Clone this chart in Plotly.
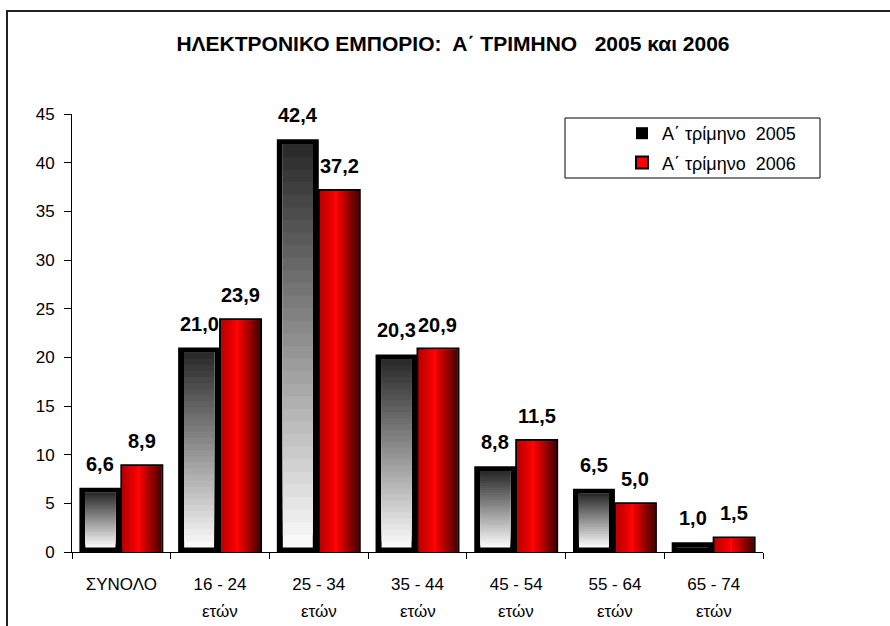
import plotly.graph_objects as go

# ---- data ----
age_groups = ["ΣΥΝΟΛΟ", "16 - 24", "25 - 34", "35 - 44", "45 - 54", "55 - 64", "65 - 74"]
age_unit = ["", "ετών", "ετών", "ετών", "ετών", "ετών", "ετών"]
q1_2005 = [6.6, 21.0, 42.4, 20.3, 8.8, 6.5, 1.0]
q1_2006 = [8.9, 23.9, 37.2, 20.9, 11.5, 5.0, 1.5]
series_names = ["Α΄ τρίμηνο  2005", "Α΄ τρίμηνο  2006"]
title_text = "ΗΛΕΚΤΡΟΝΙΚΟ ΕΜΠΟΡΙΟ:  Α΄ ΤΡΙΜΗΝΟ   2005 και 2006"
y_ticks = [0, 5, 10, 15, 20, 25, 30, 35, 40, 45]

# ---- layout geometry ----
W, H = 890, 626
ML, MR, MT, MB = 72, 127, 114, 74
PW, PH = W - ML - MR, H - MT - MB
YMAX = 45
px_x = PW / len(age_groups)      # pixels per category
px_y = PH / YMAX                 # pixels per y unit

FONT = "Liberation Sans, Arial, sans-serif"

fig = go.Figure()

# ---- 2005 series: black bar with vertical grey gradient ----
b_off, b_w = -0.425, 0.425
fig.add_trace(go.Bar(
    x=age_groups, y=q1_2005, name=series_names[0],
    offset=b_off, width=b_w,
    marker=dict(color="black", line=dict(width=0)),
    legendgroup="a", hoverinfo="x+y",
))
N = 32
inset_x = 6 / px_x
bot = 4.5 / px_y
top_in = 5.0 / px_y
for k in range(N):
    t = (k + 0.5) / N
    g = int(round(252 - (252 - 40) * t))
    bases, heights = [], []
    for v in q1_2005:
        top = v - top_in
        span = max(top - bot, 0)
        b = bot + span * k / N
        bases.append(b)
        heights.append(max(top - b, 0))
    fig.add_trace(go.Bar(
        x=age_groups, y=heights, base=bases,
        offset=b_off + inset_x, width=b_w - 2 * inset_x,
        marker=dict(color=f"rgb({g},{g},{g})", line=dict(width=0)),
        showlegend=False, hoverinfo="skip",
    ))

# ---- 2006 series: red bar with horizontal gradient ----
r_off, r_w = 0.0, 0.415
fig.add_trace(go.Bar(
    x=age_groups, y=q1_2006, name=series_names[1],
    offset=r_off, width=r_w,
    marker=dict(color="#ff0000", line=dict(width=2, color="black")),
    legendgroup="b", hoverinfo="x+y",
))
M = 18
ix = 1.2 / px_x
x_start = r_off + ix
x_end = r_off + r_w - ix
def red_at(t):
    pts = [(0.0, 185), (0.42, 255), (1.0, 70)]
    for (t0, c0), (t1, c1) in zip(pts[:-1], pts[1:]):
        if t <= t1:
            return c0 + (c1 - c0) * (t - t0) / (t1 - t0)
    return pts[-1][1]
for j in range(M):
    t = (j + 0.5) / M
    r = int(round(red_at(t)))
    gb = int(round(max(0, (r - 235)) * 0.3))
    xs = x_start + (x_end - x_start) * j / M
    tops = [max(v - 1.2 / px_y, 0) for v in q1_2006]
    fig.add_trace(go.Bar(
        x=age_groups, y=tops, base=[0] * len(q1_2006),
        offset=xs, width=x_end - xs,
        marker=dict(color=f"rgb({r},{gb},{gb})", line=dict(width=0)),
        showlegend=False, hoverinfo="skip",
    ))

# ---- data labels ----
annotations = []
lab_font = dict(family=FONT, size=20, color="black")
for i, (a, b) in enumerate(zip(q1_2005, q1_2006)):
    annotations.append(dict(
        x=i + b_off + b_w / 2, y=a, xref="x", yref="y",
        text="<b>" + f"{a:.1f}".replace(".", ",") + "</b>", showarrow=False,
        yanchor="middle", yshift=24, font=lab_font, xanchor="center"))
    annotations.append(dict(
        x=i + r_off + r_w / 2, y=b, xref="x", yref="y",
        text="<b>" + f"{b:.1f}".replace(".", ",") + "</b>", showarrow=False,
        yanchor="middle", yshift=24, font=lab_font, xanchor="center"))

# ---- helpers ----
def px2paper_x(p):
    return (p - ML) / PW
def px2paper_y(p):
    return (H - MB - p) / PH

# second line of category labels
for i, u in enumerate(age_unit):
    if u:
        annotations.append(dict(
            x=i, y=px2paper_y(611), xref="x", yref="paper",
            text=u, showarrow=False, yanchor="middle",
            font=dict(family=FONT, size=17, color="black")))

# ---- frame and legend box ----
shapes = [
    dict(type="rect", xref="paper", yref="paper",
         x0=px2paper_x(7), x1=px2paper_x(1000),
         y0=px2paper_y(800), y1=px2paper_y(11),
         line=dict(color="#222222", width=2), layer="below"),
    dict(type="rect", xref="paper", yref="paper",
         x0=px2paper_x(565), x1=px2paper_x(820),
         y0=px2paper_y(178), y1=px2paper_y(118),
         line=dict(color="black", width=1), fillcolor="white", layer="below"),
]

fig.update_layout(
    width=W, height=H,
    margin=dict(l=ML, r=MR, t=MT, b=MB, autoexpand=False),
    paper_bgcolor="white", plot_bgcolor="white",
    barmode="overlay",
    font=dict(family=FONT, size=17, color="black"),
    title=dict(text=f"<b>{title_text}</b>", x=453 / W, xanchor="center",
               y=1 - 44 / H, yanchor="middle", yref="container",
               font=dict(family=FONT, size=21, color="black")),
    showlegend=True,
    legend=dict(x=px2paper_x(622), y=px2paper_y(115), xanchor="left", yanchor="top",
                bgcolor="rgba(0,0,0,0)", borderwidth=0,
                font=dict(family=FONT, size=18, color="black"),
                traceorder="grouped", tracegroupgap=3),
    shapes=shapes,
    annotations=annotations,
)
fig.update_xaxes(
    type="category", categoryorder="array", categoryarray=age_groups,
    range=[-0.5, len(age_groups) - 0.5],
    tickson="boundaries", ticks="outside", ticklen=6, tickcolor="black",
    showline=True, linecolor="black", linewidth=1,
    showgrid=False, zeroline=False, ticklabelstandoff=17,
    tickfont=dict(family=FONT, size=17, color="black"),
)
fig.update_yaxes(
    range=[0, YMAX], tickvals=y_ticks, ticks="outside", ticklen=7, tickcolor="black",
    showline=True, linecolor="black", linewidth=1,
    showgrid=False, zeroline=False, ticklabelstandoff=6,
    tickfont=dict(family=FONT, size=17, color="black"),
)

fig.write_html("out.html", config={"displayModeBar": False},
               post_script="document.body.style.margin='0px';document.body.style.padding='0px';")
